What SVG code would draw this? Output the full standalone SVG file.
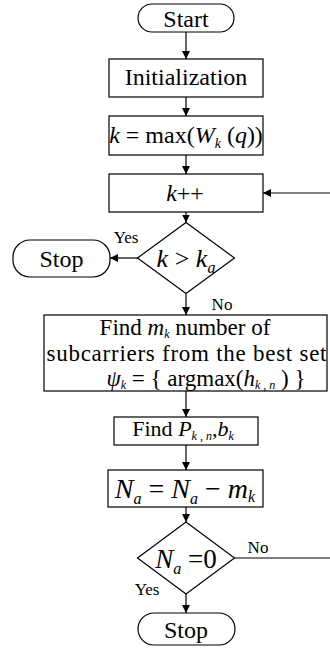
<svg xmlns="http://www.w3.org/2000/svg" width="330" height="653" viewBox="0 0 330 653" font-family="Liberation Serif, Times New Roman, serif">
<defs>
<marker id="ah" viewBox="0 0 10 10" refX="10" refY="5" markerWidth="8" markerHeight="8" markerUnits="userSpaceOnUse" orient="auto">
<path d="M0,0 L10,5 L0,10 Z" fill="#000"/>
</marker>
</defs>
<style>
.s{fill:#fff;stroke:#000;stroke-width:1.2}
text{fill:#000;text-anchor:middle}
.t{font-size:24px}
.f{font-size:23px}
.l{font-size:17px}
.i{font-style:italic}
.sub{font-size:14px}
.fs{font-size:12px}
.c line,.c path{stroke:#000;stroke-width:1.2;fill:none}
.a{marker-end:url(#ah)}
</style>
<g class="c" id="connectors">
<line class="a" x1="186" y1="32" x2="186" y2="59"/>
<line class="a" x1="186" y1="97" x2="186" y2="116"/>
<line class="a" x1="186" y1="155" x2="186" y2="174"/>
<line class="a" x1="186" y1="212" x2="186" y2="222.5"/>
<line class="a" x1="330" y1="193" x2="263" y2="193"/>
<line class="a" x1="138" y1="258" x2="110" y2="258"/>
<line class="a" x1="186" y1="293.5" x2="186" y2="315"/>
<line class="a" x1="186" y1="391" x2="186" y2="417"/>
<line class="a" x1="186" y1="445" x2="186" y2="470"/>
<line class="a" x1="186" y1="507" x2="186" y2="522"/>
<line x1="234.5" y1="558" x2="330" y2="558"/>
<line class="a" x1="186" y1="594" x2="186" y2="613"/>
</g>
<g id="start">
<rect class="s" x="138" y="4" width="96" height="28" rx="14"/>
<text class="t" x="186" y="27">Start</text>
</g>
<g id="init">
<rect class="s" x="109" y="59" width="154" height="38"/>
<text class="t" x="186" y="85">Initialization</text>
</g>
<g id="kmax">
<rect class="s" x="109" y="116" width="154" height="39"/>
<text class="t" x="186" y="143"><tspan class="i">k</tspan> = max(<tspan class="i">W</tspan><tspan class="i sub" dy="5">k</tspan><tspan dy="-5"> (</tspan><tspan class="i">q</tspan>))</text>
</g>
<g id="kinc">
<rect class="s" x="109" y="174" width="154" height="38"/>
<text class="t" x="185" y="201"><tspan class="i">k</tspan>++</text>
</g>
<g id="dec1">
<path class="s" d="M186,222.5 L234.5,258 L186,293.5 L137.5,258 Z"/>
<text style="font-size:26px" x="186" y="267"><tspan class="i">k</tspan> &gt; <tspan class="i">k</tspan><tspan class="i" style="font-size:16px" dy="6">a</tspan></text>
<text class="l" x="126" y="243">Yes</text>
<text class="l" x="222" y="310">No</text>
</g>
<g id="stop1">
<rect class="s" x="13" y="240" width="97" height="37" rx="17"/>
<text class="t" x="61.5" y="267">Stop</text>
</g>
<g id="find">
<rect class="s" x="44" y="315" width="283" height="76"/>
<text class="f"><tspan x="185" y="335">Find <tspan class="i">m</tspan><tspan class="i fs" dy="3">k</tspan><tspan dy="-3"> number of</tspan></tspan><tspan x="186.5" y="361" textLength="280" lengthAdjust="spacing">subcarriers from the best set</tspan><tspan x="206" y="386"><tspan class="i">ψ</tspan><tspan class="i fs" dy="3">k</tspan><tspan dy="-3"> = { argmax(</tspan><tspan class="i">h</tspan><tspan class="i fs" dy="3">k , n</tspan><tspan dy="-3"> ) }</tspan></tspan></text>
</g>
<g id="findp">
<rect class="s" x="114" y="417" width="144" height="28"/>
<text style="font-size:22px" x="183" y="436">Find  <tspan class="i">P</tspan><tspan class="i fs" dy="4">k , n</tspan><tspan dy="-4">,</tspan><tspan class="i">b</tspan><tspan class="i fs" dy="4">k</tspan></text>
</g>
<g id="update">
<rect class="s" x="108" y="470" width="155" height="37"/>
<text style="font-size:28px" x="185" y="498"><tspan class="i">N</tspan><tspan class="i" style="font-size:16px" dy="6">a</tspan><tspan dy="-6"> = </tspan><tspan class="i">N</tspan><tspan class="i" style="font-size:16px" dy="6">a</tspan><tspan dy="-6"> − </tspan><tspan class="i">m</tspan><tspan class="i" style="font-size:16px" dy="4">k</tspan></text>
</g>
<g id="dec2">
<path class="s" d="M186,522 L234.5,558 L186,594 L137.5,558 Z"/>
<text style="font-size:27px" x="186" y="568"><tspan class="i">N</tspan><tspan class="i" style="font-size:16px" dy="6">a</tspan><tspan dy="-6"> =0</tspan></text>
<text class="l" x="258" y="553">No</text>
<text class="l" x="147" y="595">Yes</text>
</g>
<g id="stop2">
<rect class="s" x="138" y="613" width="97" height="32" rx="16"/>
<text class="t" x="186" y="638">Stop</text>
</g>
</svg>
